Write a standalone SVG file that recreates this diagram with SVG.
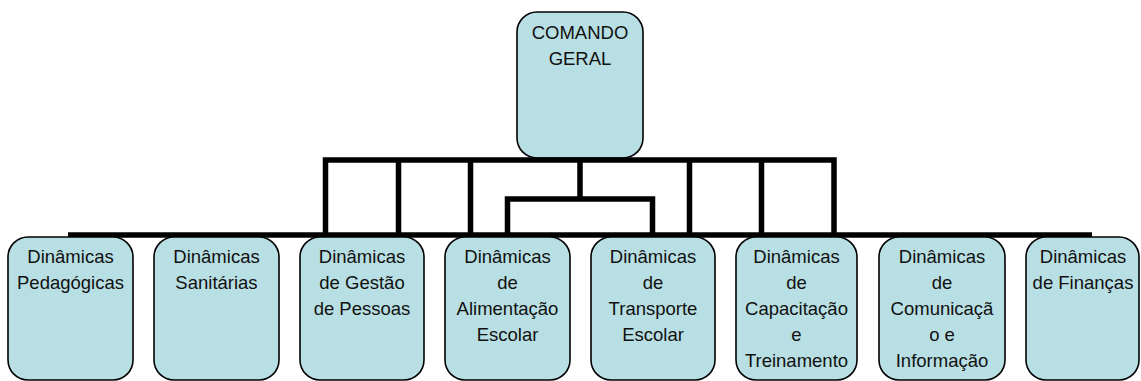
<svg xmlns="http://www.w3.org/2000/svg" width="1141" height="381" viewBox="0 0 1141 381">
<style>
.box{fill:#B8DFE3;stroke:#000;stroke-width:1.6}
.conn{fill:none;stroke:#000;stroke-width:5.5;stroke-linejoin:miter;stroke-linecap:butt}
text{font-family:"Liberation Sans",Arial,sans-serif;font-size:18.5px;fill:#111;text-anchor:middle}
</style>
<rect width="1141" height="381" fill="#fff"/>
<g id="top">
<rect class="box" x="517" y="12" width="126" height="146" rx="20"/>
<text x="580" y="39">COMANDO</text>
<text x="580" y="65">GERAL</text>
</g>
<g id="connectors">
<path class="conn" d="M325.5 235 V160 H834 V235"/>
<path class="conn" d="M398.5 160 V235"/>
<path class="conn" d="M470.5 160 V235"/>
<path class="conn" d="M689.5 160 V235"/>
<path class="conn" d="M761.5 160 V235"/>
<path class="conn" d="M68 235 H1092"/>
<path class="conn" d="M580 160 V199"/>
<path class="conn" d="M507.5 237 V199 H652.5 V237"/>
</g>
<g id="n1">
<rect class="box" x="8" y="237" width="125" height="143" rx="20"/>
<text x="70.5" y="263">Dinâmicas</text>
<text x="70.5" y="289">Pedagógicas</text>
</g>
<g id="n2">
<rect class="box" x="154" y="237" width="125" height="143" rx="20"/>
<text x="216.5" y="263">Dinâmicas</text>
<text x="216.5" y="289">Sanitárias</text>
</g>
<g id="n3">
<rect class="box" x="300" y="237" width="124" height="143" rx="20"/>
<text x="362" y="263">Dinâmicas</text>
<text x="362" y="289">de Gestão</text>
<text x="362" y="315">de Pessoas</text>
</g>
<g id="n4">
<rect class="box" x="445" y="237" width="125" height="143" rx="20"/>
<text x="507.5" y="263">Dinâmicas</text>
<text x="507.5" y="289">de</text>
<text x="507.5" y="315">Alimentação</text>
<text x="507.5" y="341">Escolar</text>
</g>
<g id="n5">
<rect class="box" x="591" y="237" width="124" height="143" rx="20"/>
<text x="653" y="263">Dinâmicas</text>
<text x="653" y="289">de</text>
<text x="653" y="315">Transporte</text>
<text x="653" y="341">Escolar</text>
</g>
<g id="n6">
<rect class="box" x="736" y="237" width="121" height="143" rx="20"/>
<text x="796.5" y="263">Dinâmicas</text>
<text x="796.5" y="289">de</text>
<text x="796.5" y="315">Capacitação</text>
<text x="796.5" y="341">e</text>
<text x="796.5" y="367">Treinamento</text>
</g>
<g id="n7">
<rect class="box" x="879" y="237" width="126" height="143" rx="20"/>
<text x="942" y="263">Dinâmicas</text>
<text x="942" y="289">de</text>
<text x="942" y="315">Comunicaçã</text>
<text x="942" y="341">o e</text>
<text x="942" y="367">Informação</text>
</g>
<g id="n8">
<rect class="box" x="1026" y="237" width="113" height="143" rx="20"/>
<text x="1083" y="263">Dinâmicas</text>
<text x="1083" y="289">de Finanças</text>
</g>
</svg>
